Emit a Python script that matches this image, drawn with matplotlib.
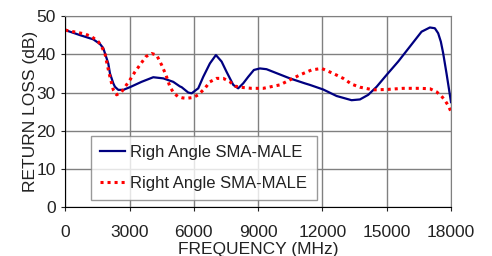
import matplotlib.pyplot as plt
from matplotlib.ticker import MultipleLocator

plt.rcParams["font.family"] = ["Liberation Sans", "DejaVu Sans"]

# values (MHz, dB)
freq_blue = [0, 62, 686, 1306, 1618, 1773, 2006, 2085, 2240, 2318, 2473, 2706, 3017,
             3560, 4105, 4574, 5037, 5349, 5430, 5737, 5895, 6204, 6437, 6748, 7029,
             7294, 7527, 7838, 8068, 8302, 8535, 8801, 9080, 9390, 10480, 11180, 11413,
             12034, 12660, 13360, 13750, 14136, 14527, 14993, 15535, 16080, 16625,
             17013, 17245, 17400, 17525, 17633, 17790, 18000]
rl_blue = [46.5, 46.2, 45.0, 43.9, 42.7, 41.6, 37.6, 35.0, 32.4, 31.5, 30.7, 30.7, 31.4,
           32.8, 34.0, 33.7, 32.8, 31.6, 31.4, 30.0, 29.8, 31.1, 34.1, 37.6, 39.8,
           38.1, 35.4, 32.0, 31.1, 32.4, 34.1, 35.9, 36.3, 36.1, 33.7, 32.4, 32.0,
           30.8, 29.1, 28.0, 28.2, 29.4, 31.5, 34.6, 38.1, 42.0, 45.9,
           47.0, 46.8, 45.5, 43.3, 40.3, 35.0, 27.5]

freq_red = [0, 919, 1230, 1540, 1697, 1850, 1960, 2085, 2240, 2395, 2630, 3017, 3250,
            3483, 3763, 4030, 4262, 4496, 4696, 4884, 5069, 5271, 5475, 5660, 5970,
            6204, 6515, 6748, 7060, 7371, 7683, 7916, 8147, 8691, 9235, 10013, 10480,
            10946, 11490, 11960, 12500, 12970, 13360, 13750, 14370, 14993, 15770,
            16540, 17013, 17320, 17550, 17710, 17860, 18000]
rl_red = [46.3, 45.3, 44.6, 43.3, 42.0, 40.2, 37.2, 34.1, 30.7, 29.4, 30.2, 33.3, 35.4,
          37.2, 39.4, 40.2, 39.8, 37.2, 34.6, 31.5, 29.8, 28.9, 28.6, 28.5, 28.7,
          29.4, 31.1, 32.8, 33.7, 33.7, 32.8, 31.7, 31.4, 31.1, 31.1, 32.0, 33.3,
          34.6, 35.9, 36.3, 35.0, 33.7, 32.2, 31.4, 30.7, 30.8, 31.1,
          31.1, 31.0, 30.2, 29.1, 28.0, 26.7, 25.0]

label_blue = "Righ Angle SMA-MALE"
label_red = "Right Angle SMA-MALE"

fig = plt.figure(figsize=(4.92, 2.56), dpi=100)
ax = fig.add_axes([0.1327, 0.19, 0.784, 0.7475])

ax.plot(freq_blue, rl_blue, color="#000080", lw=1.6, label=label_blue)
ax.plot(freq_red, rl_red, color="#ff0000", lw=2.2, ls=(0, (1, 1.3)), label=label_red)

ax.set_xlim(0, 18000)
ax.set_ylim(0, 50)
ax.xaxis.set_major_locator(MultipleLocator(3000))
ax.yaxis.set_major_locator(MultipleLocator(10))
ax.grid(True, color="#808080", lw=1.0)
ax.set_axisbelow(True)
for s in ["top", "right"]:
    ax.spines[s].set_color("#808080")
for s in ["left", "bottom"]:
    ax.spines[s].set_color("black")
ax.tick_params(direction="out", length=3, width=0.8, labelsize=12.5, colors="#222222", pad=4)
ax.tick_params(axis="x", pad=10)

ax.set_xlabel("FREQUENCY (MHz)", fontsize=12.5, labelpad=1, color="#222222")
ax.set_ylabel("RETURN LOSS (dB)", fontsize=12.5, labelpad=-1, color="#222222")

leg = ax.legend(loc="lower left", bbox_to_anchor=(0.066, 0.038, 0.586, 0.34), mode="expand",
                fontsize=12, frameon=True, fancybox=False, borderaxespad=0,
                handlelength=1.5, handletextpad=0.3, labelspacing=0.95, borderpad=0.55)
leg.get_frame().set_edgecolor("#808080")
leg.get_frame().set_linewidth(1.0)
for t in leg.get_texts():
    t.set_color("#222222")

fig.savefig("out.png", dpi=100)
